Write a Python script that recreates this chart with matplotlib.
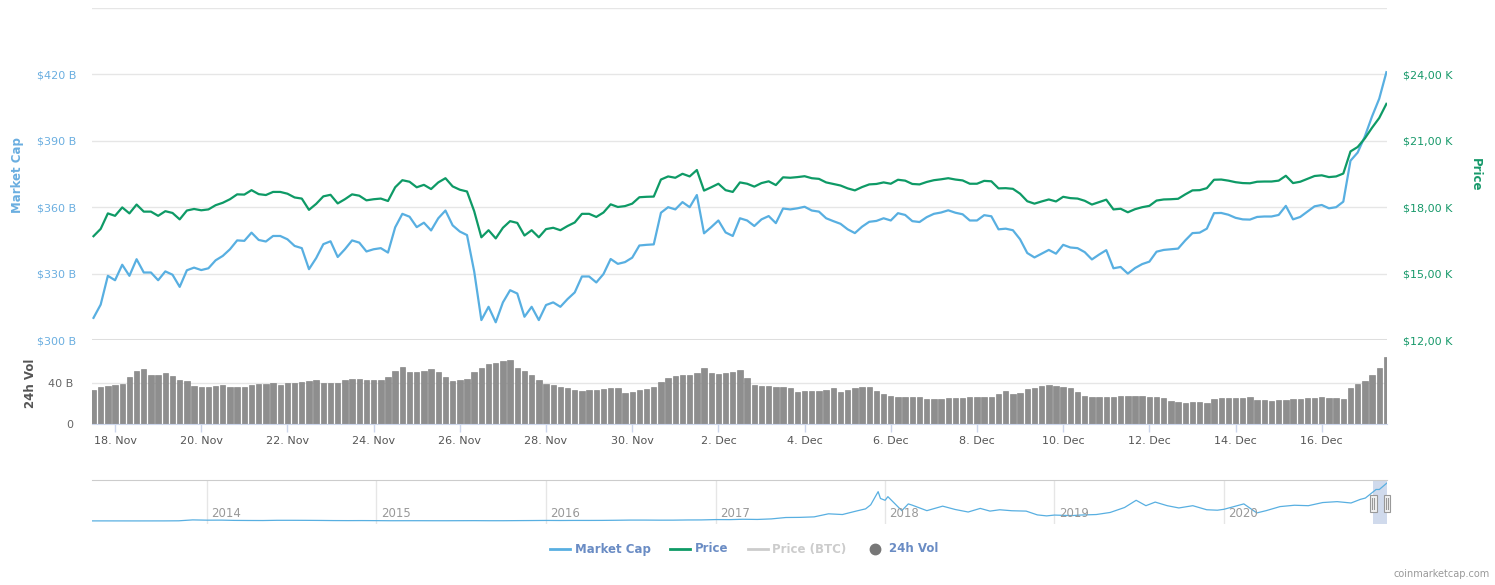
import matplotlib
matplotlib.use("Agg")
import matplotlib.pyplot as plt
import matplotlib.dates as mdates
import matplotlib.transforms as mtransforms
from matplotlib.lines import Line2D
from matplotlib.patches import Rectangle
import pandas as pd

# ---------------- data ----------------
start_time = "2020-11-17 12:00"
n_points = 181  # 4-hour steps

market_cap_b = [
    310, 316, 329, 327, 334, 329, 336.5, 330.5, 330.5, 327,
    331, 329.5, 324, 331.5, 332.7, 331.6, 332.4, 336, 338, 341,
    345, 344.8, 348.5, 345.2, 344.5, 347, 347, 345.5, 342.5, 341.5,
    332, 337, 343.3, 344.6, 337.5, 341, 345, 344, 340, 341,
    341.5, 339.5, 350.9, 357, 355.7, 351, 353, 349.5, 355, 358.5,
    351.8, 349, 347.4, 331, 309, 315, 308, 317, 322.5, 321,
    310.5, 315, 309, 315.8, 317, 315, 318.5, 321.5, 328.7, 328.7,
    326, 329.8, 336.6, 334.4, 335.2, 337.2, 342.7, 343, 343.2, 357.5,
    360, 359, 362.3, 360, 365.5, 348.2, 351, 354, 348.6, 347,
    355, 354, 351.5, 354.5, 356, 352.8, 359.4, 359, 359.5, 360.2,
    358.5, 358, 355, 353.7, 352.5, 350, 348.3, 351.2, 353.4, 353.8,
    355, 354, 357.3, 356.5, 353.7, 353.3, 355.5, 357, 357.6, 358.6,
    357.5, 356.8, 354, 354, 356.4, 355.9, 350, 350.3, 349.6, 345.5,
    339.3, 337.3, 339, 340.7, 339, 343, 341.8, 341.5, 339.7, 336.4,
    338.6, 340.6, 332.4, 333, 330, 332.5, 334.3, 335.4, 339.9, 340.7,
    341, 341.3, 345, 348.3, 348.5, 350.3, 357.3, 357.4, 356.6, 355.2,
    354.5, 354.4, 355.6, 355.8, 355.8, 356.5, 360.6, 354.5, 355.6, 358,
    360.4, 361, 359.5, 360, 362.5, 381, 384.7, 392, 401, 409, 421,
]

price_usd = [
    16690, 17020, 17720, 17610, 17990, 17720, 18120, 17800, 17800, 17610,
    17820, 17740, 17450, 17850, 17920, 17860, 17900, 18090, 18200, 18360,
    18580, 18570, 18770, 18590, 18550, 18690, 18690, 18610, 18440, 18390,
    17880, 18150, 18490, 18560, 18170, 18360, 18580, 18520, 18310, 18360,
    18390, 18280, 18900, 19220, 19150, 18900, 19010, 18820, 19120, 19310,
    18940, 18790, 18710, 17820, 16640, 16960, 16590, 17070, 17370, 17290,
    16720, 16960, 16640, 17010, 17070, 16960, 17150, 17310, 17700, 17700,
    17560, 17760, 18130, 18010, 18050, 18160, 18450, 18470, 18480, 19250,
    19390, 19330, 19510, 19390, 19680, 18750, 18900, 19060, 18770, 18690,
    19120, 19060, 18930, 19090, 19170, 19000, 19350, 19330, 19360, 19400,
    19310, 19280, 19120, 19050, 18980, 18850, 18760, 18910, 19030, 19050,
    19120, 19060, 19240, 19200, 19050, 19030, 19140, 19220, 19260, 19310,
    19250, 19210, 19060, 19060, 19190, 19170, 18850, 18860, 18830, 18610,
    18270, 18160, 18260, 18350, 18260, 18470, 18410, 18390, 18290, 18120,
    18230, 18340, 17900, 17930, 17770, 17910, 18000, 18060, 18300, 18350,
    18360, 18380, 18580, 18760, 18770, 18860, 19240, 19250, 19200, 19130,
    19090, 19080, 19150, 19160, 19160, 19200, 19420, 19090, 19150, 19280,
    19410, 19440, 19360, 19390, 19520, 20520, 20720, 21110, 21590, 22030, 22670,
]

volume_b = [
    33.5, 36.5, 37.8, 38.2, 39.8, 46.5, 52.5, 54.5, 48.5, 48.2,
    49.8, 47, 43, 42, 37.3, 36.2, 36.5, 37.2, 38, 36.5,
    36.2, 36.8, 38.8, 39.3, 39.6, 40.4, 38.8, 40.4, 40.6, 40.8,
    41.8, 43.5, 40, 40.3, 40.6, 42.8, 44.2, 44.7, 42.8, 43,
    43.7, 45.8, 52.4, 56, 51.6, 51, 51.8, 54.4, 51.5, 46.2,
    42, 43.4, 44.6, 51.3, 55.2, 58.6, 59.8, 62.3, 62.9, 55.5,
    52.4, 48.6, 43, 39, 38.3, 36.6, 35, 33.7, 32.8, 33.1,
    33.4, 34.2, 35, 35.5, 30.4, 31.5, 33.1, 34.7, 36.2, 41,
    45.5, 47.3, 47.9, 48.5, 49.8, 55, 49.7, 49.2, 50, 51.3,
    53, 45, 38.2, 37.6, 37, 36.6, 36.3, 35.5, 31.8, 32,
    32.4, 32.6, 33.5, 35.8, 31.2, 33.2, 35, 36, 36, 32.2,
    29, 27.6, 26.6, 26.3, 26.2, 26.2, 24.2, 24.2, 24.9, 25.3,
    25.4, 26, 26.4, 26.8, 26.8, 27, 29.5, 32.2, 29, 30.2,
    34.1, 35.5, 37, 38.6, 37.5, 36.2, 35, 31.5, 27.8, 26.2,
    26.2, 26.2, 27, 27.5, 27.5, 27.4, 27.2, 26.9, 26.5, 25.6,
    22.5, 21.4, 20.9, 21.5, 21.2, 21, 24.8, 26, 25.5, 25.5,
    26, 26.7, 23.6, 23.3, 23, 23.2, 23.8, 24.4, 25, 25.4,
    25.8, 26.2, 25.8, 25.3, 24.4, 35, 39.3, 42.5, 48.5, 55, 65.5,
]

mcap_ticks = [300, 330, 360, 390, 420, 450]
mcap_tick_labels = ["$300 B", "$330 B", "$360 B", "$390 B", "$420 B", ""]
price_ticks = [12000, 15000, 18000, 21000, 24000, 27000]
price_tick_labels = ["$12,00 K", "$15,00 K", "$18,00 K", "$21,00 K", "$24,00 K", ""]
vol_ticks = [0, 40]
vol_tick_labels = ["0", "40 B"]

date_ticks = ["2020-11-18", "2020-11-20", "2020-11-22", "2020-11-24", "2020-11-26",
              "2020-11-28", "2020-11-30", "2020-12-02", "2020-12-04", "2020-12-06",
              "2020-12-08", "2020-12-10", "2020-12-12", "2020-12-14", "2020-12-16"]
date_tick_labels = ["18. Nov", "20. Nov", "22. Nov", "24. Nov", "26. Nov", "28. Nov",
                    "30. Nov", "2. Dec", "4. Dec", "6. Dec", "8. Dec", "10. Dec",
                    "12. Dec", "14. Dec", "16. Dec"]

nav_dates = [
    "2013-04-28", "2013-06-01", "2013-08-01", "2013-10-01", "2013-11-01", "2013-12-01",
    "2014-01-01", "2014-02-01", "2014-03-01", "2014-04-01", "2014-05-01", "2014-06-01",
    "2014-07-01", "2014-08-01", "2014-09-01", "2014-10-01", "2014-11-01", "2014-12-01",
    "2015-01-01", "2015-02-01", "2015-03-01", "2015-04-01", "2015-05-01", "2015-06-01",
    "2015-07-01", "2015-08-01", "2015-09-01", "2015-10-01", "2015-11-01", "2015-12-01",
    "2016-01-01", "2016-02-01", "2016-03-01", "2016-04-01", "2016-05-01", "2016-06-01",
    "2016-07-01", "2016-08-01", "2016-09-01", "2016-10-01", "2016-11-01", "2016-12-01",
    "2017-01-01", "2017-02-01", "2017-03-01", "2017-04-01", "2017-05-01", "2017-06-01",
    "2017-07-01", "2017-08-01", "2017-09-01", "2017-10-01", "2017-11-01", "2017-11-20",
    "2017-12-01", "2017-12-17", "2017-12-22", "2018-01-01", "2018-01-07", "2018-02-06",
    "2018-02-20", "2018-03-01", "2018-04-01", "2018-05-05", "2018-06-01", "2018-06-29",
    "2018-07-25", "2018-08-15", "2018-09-05", "2018-10-01", "2018-11-01", "2018-11-25",
    "2018-12-15", "2019-01-01", "2019-02-07", "2019-03-01", "2019-04-01", "2019-05-01",
    "2019-06-01", "2019-06-26", "2019-07-17", "2019-08-06", "2019-09-01", "2019-09-26",
    "2019-10-26", "2019-11-25", "2019-12-18", "2020-01-01", "2020-02-13", "2020-03-12",
    "2020-04-01", "2020-05-01", "2020-06-01", "2020-07-01", "2020-08-01", "2020-09-01",
    "2020-10-01", "2020-10-21", "2020-11-01", "2020-11-24", "2020-12-01", "2020-12-17",
]
nav_mcap_b = [
    1.5, 1.4, 1.2, 1.5, 2.5, 12.5,
    9.5, 10, 7, 6, 5.5, 8,
    8, 7.5, 6.5, 5, 4.5, 5,
    4.3, 3.2, 3.5, 3.6, 3.3, 3.2,
    3.8, 4.2, 3.4, 3.5, 4.6, 5.4,
    6.5, 5.7, 6.6, 6.5, 7, 8.5,
    10.5, 10.5, 9.5, 9.7, 11.7, 12.2,
    16, 15.6, 19.5, 17.5, 23.6, 39,
    40.5, 46, 80, 72, 112, 135,
    180, 326, 250, 230, 270, 115,
    190, 175, 115, 165, 128, 100,
    140, 110, 125, 114, 110, 68,
    57, 66, 60, 67, 72, 95,
    150, 230, 170, 210, 170, 145,
    170, 125, 120, 130, 190, 90,
    115, 160, 175, 170, 205, 215,
    200, 240, 255, 350, 350, 420,
]
nav_years = ["2014", "2015", "2016", "2017", "2018", "2019", "2020"]

# ---------------- style ----------------
W, H = 1495, 585
BLUE = "#58afe1"
BLUE_LBL = "#6aaee0"
GREEN = "#0e9a66"
GREEN_LBL = "#17996a"
GRID = "#e6e6e6"
LEGEND_TXT = "#6a8cc4"
plt.rcParams["font.family"] = ["DejaVu Sans"]

times = pd.date_range(start_time, periods=n_points, freq="4h")
xmin = pd.Timestamp("2020-11-17 11:10")
xmax = pd.Timestamp("2020-12-17 12:20")

fig = plt.figure(figsize=(W / 100, H / 100), dpi=100)

# ---- main panel ----
ax = fig.add_axes([92 / W, 1 - 340 / H, 1295 / W, 332 / H])
ax2 = ax.twinx()
ax.plot(times, market_cap_b, color=BLUE, lw=1.6, solid_joinstyle="round", zorder=3)
ax2.plot(times, price_usd, color=GREEN, lw=1.6, solid_joinstyle="round", zorder=3)
ax.set_xlim(xmin, xmax)
ax.set_ylim(300, 450)
ax2.set_ylim(12000, 27000)
ax.set_yticks(mcap_ticks)
ax.set_yticklabels(mcap_tick_labels)
ax2.set_yticks(price_ticks)
ax2.set_yticklabels(price_tick_labels)
ax.set_xticks([])
for a in (ax, ax2):
    for s in a.spines.values():
        s.set_visible(False)
ax.grid(axis="y", color=GRID, lw=1)
ax.set_axisbelow(True)
ax.axhline(300, color="#dedede", lw=2.2, zorder=1)
ax.tick_params(axis="y", length=0, pad=11.5, labelsize=8, labelcolor=BLUE_LBL)
ax2.tick_params(axis="y", length=0, pad=11.5, labelsize=8, labelcolor=GREEN_LBL)

fig.text(17.5 / W, 1 - 175 / H, "Market Cap", rotation=90, ha="center", va="center",
         color=BLUE_LBL, fontsize=8.5, fontweight="bold")
fig.text(1475 / W, 1 - 175 / H, "Price", rotation=270, ha="center", va="center",
         color=GREEN_LBL, fontsize=8.5, fontweight="bold")

# ---- volume panel ----
axv = fig.add_axes([92 / W, 1 - 424 / H, 1295 / W, 82 / H])
axv.bar(times, volume_b, width=pd.Timedelta(hours=3.0), color="#8e8e8e",
        edgecolor="#7a7a7a", linewidth=0.4, align="center", zorder=2)
axv.set_xlim(xmin, xmax)
axv.set_ylim(0, 80.6)
axv.set_yticks(vol_ticks)
axv.set_yticklabels(vol_tick_labels)
axv.grid(axis="y", color=GRID, lw=1)
axv.set_axisbelow(True)
for k, s in axv.spines.items():
    s.set_visible(k == "bottom")
axv.spines["bottom"].set_color("#ccd6eb")
axv.set_xticks(pd.to_datetime(date_ticks))
axv.set_xticklabels(date_tick_labels)
axv.tick_params(axis="x", length=6, width=1, color="#ccd6eb", pad=2.5,
                labelsize=8, labelcolor="#555555")
axv.tick_params(axis="y", length=0, pad=13.5, labelsize=8, labelcolor="#666666")
fig.text(30 / W, 1 - 383 / H, "24h Vol", rotation=90, ha="center", va="center",
         color="#555555", fontsize=8.5, fontweight="bold")

# ---- navigator ----
axn = fig.add_axes([92 / W, 1 - 524 / H, 1295 / W, 44 / H])
nav_t = pd.to_datetime(nav_dates)
axn.plot(nav_t, nav_mcap_b, color=BLUE, lw=0.9, zorder=3)
axn.set_xlim(pd.Timestamp("2013-04-28"), pd.Timestamp("2020-12-17 12:00"))
axn.set_ylim(-33, 455)
axn.set_xticks([])
axn.set_yticks([])
for k, s in axn.spines.items():
    s.set_visible(k == "top")
axn.spines["top"].set_color("#cccccc")
for y in nav_years:
    d = pd.Timestamp(y + "-01-01")
    axn.axvline(d, color=GRID, lw=1, zorder=1)
    axn.annotate(y, xy=(d, 0.23), xycoords=("data", "axes fraction"), xytext=(3, 0),
                 textcoords="offset points", ha="left", va="center",
                 fontsize=8.5, color="#999999")
sel0 = pd.Timestamp("2020-11-17 12:00")
sel1 = pd.Timestamp("2020-12-17 12:00")
axn.axvspan(sel0, sel1, color=(102 / 255, 133 / 255, 194 / 255), alpha=0.3, lw=0, zorder=2)
trans = mtransforms.blended_transform_factory(axn.transData, axn.transAxes)
hw = pd.Timedelta(days=7.5)
for edge in (sel0, sel1):
    x0 = mdates.date2num(edge - hw)
    wdt = mdates.date2num(edge + hw) - x0
    axn.add_patch(Rectangle((x0, 0.27), wdt, 0.40, transform=trans, facecolor="#f2f2f2",
                            edgecolor="#999999", lw=0.8, zorder=5, clip_on=False))
    for off in (-2.5, 2.5):
        xl = mdates.date2num(edge + pd.Timedelta(days=off))
        axn.add_line(Line2D([xl, xl], [0.35, 0.59], transform=trans, color="#999999",
                            lw=0.8, zorder=6, clip_on=False))

# ---- legend ----
ly = 1 - 549 / H
def leg_line(x0, x1, color):
    fig.add_artist(Line2D([x0 / W, x1 / W], [ly, ly], transform=fig.transFigure,
                          color=color, lw=2))
leg_line(550, 570, BLUE)
fig.text(575 / W, ly, "Market Cap", ha="left", va="center", fontsize=8.5,
         fontweight="bold", color=LEGEND_TXT)
leg_line(670, 690, GREEN)
fig.text(695 / W, ly, "Price", ha="left", va="center", fontsize=8.5,
         fontweight="bold", color=LEGEND_TXT)
leg_line(748, 768, "#cccccc")
fig.text(772 / W, ly, "Price (BTC)", ha="left", va="center", fontsize=8.5,
         fontweight="bold", color="#cccccc")
fig.add_artist(Line2D([875 / W], [ly], transform=fig.transFigure, marker="o",
                      markersize=7.5, color="#777777", lw=0))
fig.text(889 / W, ly, "24h Vol", ha="left", va="center", fontsize=8.5,
         fontweight="bold", color=LEGEND_TXT)

fig.text(1490 / W, 1 - 574 / H, "coinmarketcap.com", ha="right", va="center",
         fontsize=7, color="#999999")

fig.savefig("out.png", dpi=100, facecolor="white")
